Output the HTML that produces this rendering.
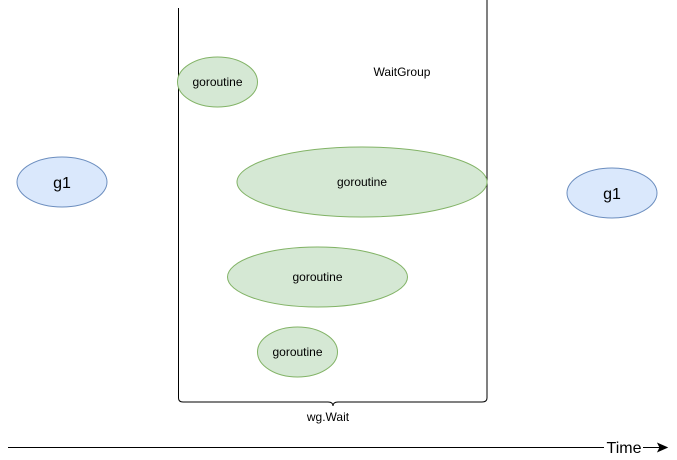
<!DOCTYPE html>
<html><head><meta charset="utf-8"><style>
html,body{margin:0;padding:0;background:#fff;}
svg{display:block;font-family:"Liberation Sans",Arial,sans-serif;}
</style></head><body>
<svg width="677" height="460" viewBox="0 0 677 460" xmlns="http://www.w3.org/2000/svg">
<rect width="677" height="460" fill="#fff"/>
<g fill="none" stroke="#000" stroke-width="1">
<path d="M178.5 8 V398 Q178.5 402 183 402 H328 Q333 402 333 406 Q333 402 338 402 H482 Q487 402 487 398 V0"/>
<line x1="8" y1="447.5" x2="604" y2="447.5"/>
<line x1="643" y1="447.5" x2="661" y2="447.5"/>
</g>
<path d="M667 447.5 L658 443.5 L660 447.5 L658 451.5 Z" fill="#000" stroke="#000"/>
<g stroke-width="1">
<ellipse cx="62" cy="182" rx="45" ry="25" fill="#dae8fc" stroke="#6c8ebf"/>
<ellipse cx="612" cy="193" rx="45" ry="25" fill="#dae8fc" stroke="#6c8ebf"/>
<ellipse cx="217.5" cy="82" rx="40" ry="25" fill="#d5e8d4" stroke="#82b366"/>
<ellipse cx="362" cy="182" rx="125" ry="35" fill="#d5e8d4" stroke="#82b366"/>
<ellipse cx="317.5" cy="277" rx="90" ry="30" fill="#d5e8d4" stroke="#82b366"/>
<ellipse cx="297.5" cy="352" rx="40" ry="25" fill="#d5e8d4" stroke="#82b366"/>
</g>
<g fill="#000" text-anchor="middle" font-size="12">
<text x="62" y="188" font-size="16">g1</text>
<text x="612" y="199" font-size="16">g1</text>
<text x="217.5" y="86">goroutine</text>
<text x="362" y="186">goroutine</text>
<text x="317.5" y="281">goroutine</text>
<text x="297.5" y="356">goroutine</text>
<text x="402" y="76">WaitGroup</text>
<text x="328" y="421">wg.Wait</text>
<text x="624" y="453" font-size="16">Time</text>
</g>
</svg>
</body></html>
